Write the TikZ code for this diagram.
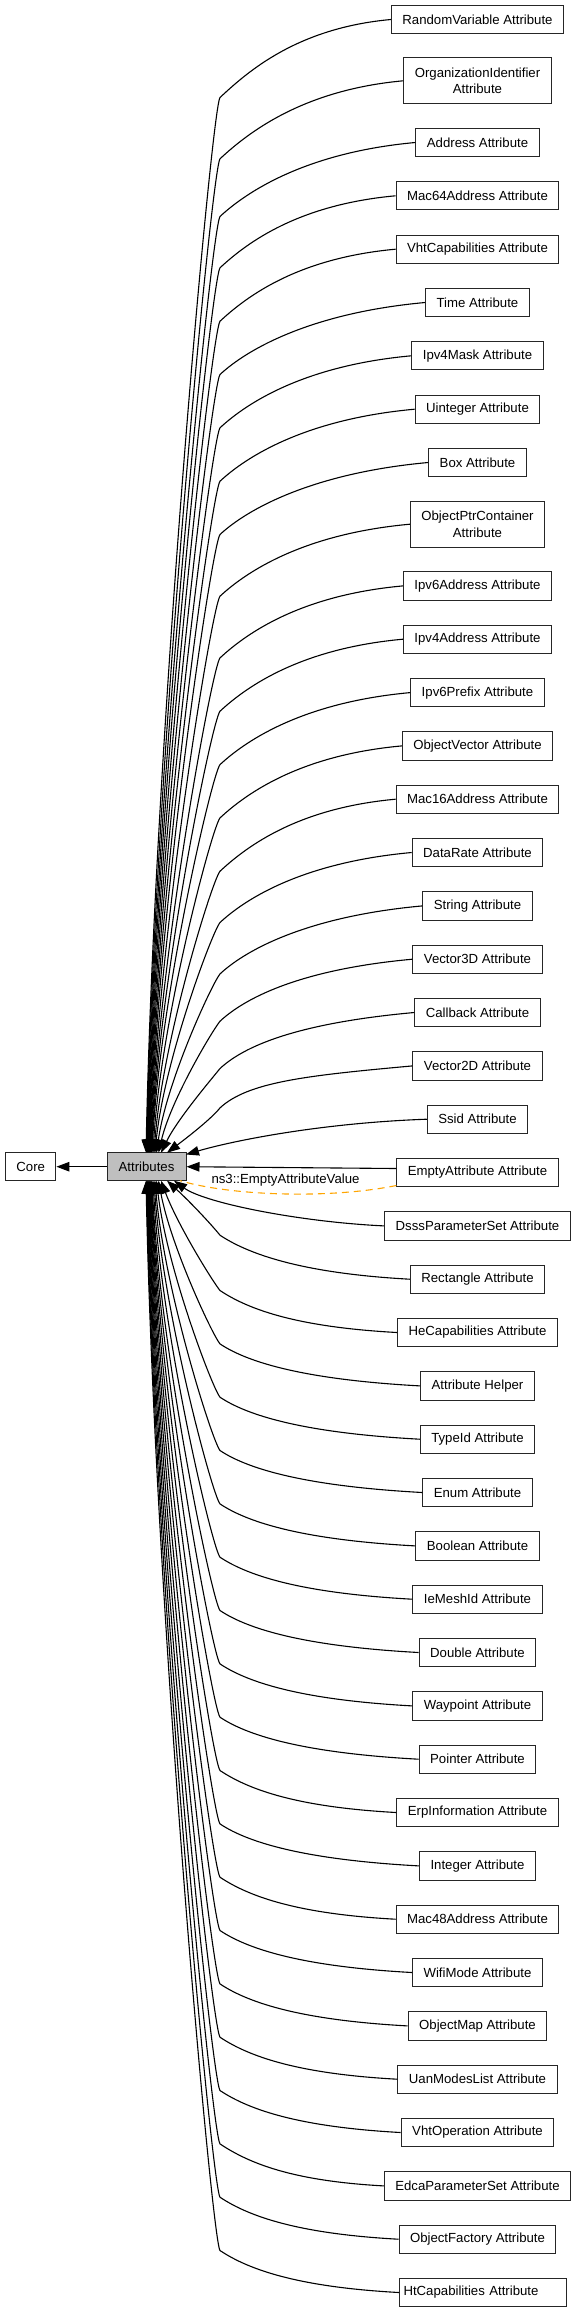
\documentclass[tikz,border=0pt]{standalone}
\usepackage{fontspec}
\setmainfont{Liberation Sans}
\usetikzlibrary{arrows.meta,calc}
\tikzset{
  abox/.style={draw=black!85, line width=1pt, font=\fontsize{13.2}{16.5}\selectfont,
    inner xsep=11pt, inner ysep=0pt, minimum height=28.3pt, align=center},
  twoline/.style={minimum height=45.7pt},
  edge/.style={line width=1.1pt, -{Triangle[length=13pt,width=9.5pt]}},
  tmpledge/.style={line width=1.1pt, draw={rgb,255:red,255;green,165;blue,0}, dash pattern=on 7pt off 5pt},
  lbl/.style={font=\fontsize{13.2}{16.5}\selectfont, inner sep=0pt}
}
\newcommand\upedge[4]{%
  \draw[edge] let \p1=(#1.west), \n1={\x1-220pt}, \n2={\y1-#3pt} in
  (\p1) .. controls ({\x1-0.55*\n1},{\y1-0.05*\n1}) and ({248pt},{\n2+26pt}) .. ({220pt},{\n2+0pt})
  .. controls ({212pt},{\n2-10pt}) and ({#2pt+#4*(220pt-#2pt)},{-1152.7pt+0.4*(\n2+1152.7pt)}) .. ({#2pt},{-1152.7pt});}
\newcommand\downedge[4]{%
  \draw[edge] let \p1=(#1.west), \n1={\x1-220pt}, \n2={\y1+#3pt} in
  (\p1) .. controls ({\x1-0.55*\n1},{\y1+0.03*\n1}) and ({250pt},{\n2-20pt}) .. ({220pt},{\n2+0pt})
  .. controls ({212pt},{\n2+10pt}) and ({#2pt+#4*(220pt-#2pt)},{-1180.7pt+0.4*(\n2+1180.7pt)}) .. ({#2pt},{-1180.7pt});}
\begin{document}
\begin{tikzpicture}[x=1pt,y=-1pt]
\useasboundingbox (0,0) rectangle (576,2315);
% central nodes
\node[abox, fill=black!25, minimum width=79pt, inner xsep=0pt] (attr) at (146.5,1166.7) {Attributes};
\node[abox, minimum width=50.4pt, inner xsep=0pt] (core) at (30.7,1166.7) {Core};
% right column
\node[abox] (n0) at (477.5,19.5) {RandomVariable Attribute};
\node[abox,twoline] (n1) at (477.5,80.8) {OrganizationIdentifier\\Attribute};
\node[abox] (n2) at (477.5,142.5) {Address Attribute};
\node[abox] (n3) at (477.5,195.8) {Mac64Address Attribute};
\node[abox] (n4) at (477.5,249.2) {VhtCapabilities Attribute};
\node[abox] (n5) at (477.5,302.5) {Time Attribute};
\node[abox] (n6) at (477.5,355.8) {Ipv4Mask Attribute};
\node[abox] (n7) at (477.5,409.2) {Uinteger Attribute};
\node[abox] (n8) at (477.5,462.5) {Box Attribute};
\node[abox,twoline] (n9) at (477.5,524.2) {ObjectPtrContainer\\Attribute};
\node[abox] (n10) at (477.5,585.9) {Ipv6Address Attribute};
\node[abox] (n11) at (477.5,639.2) {Ipv4Address Attribute};
\node[abox] (n12) at (477.5,692.6) {Ipv6Prefix Attribute};
\node[abox] (n13) at (477.5,745.9) {ObjectVector Attribute};
\node[abox] (n14) at (477.5,799.2) {Mac16Address Attribute};
\node[abox] (n15) at (477.5,852.5) {DataRate Attribute};
\node[abox] (n16) at (477.5,905.9) {String Attribute};
\node[abox] (n17) at (477.5,959.2) {Vector3D Attribute};
\node[abox] (n18) at (477.5,1012.5) {Callback Attribute};
\node[abox] (n19) at (477.5,1065.9) {Vector2D Attribute};
\node[abox] (n20) at (477.5,1119.2) {Ssid Attribute};
\node[abox] (n21) at (477.5,1172.5) {EmptyAttribute Attribute};
\node[abox] (n22) at (477.5,1225.9) {DsssParameterSet Attribute};
\node[abox] (n23) at (477.5,1279.2) {Rectangle Attribute};
\node[abox] (n24) at (477.5,1332.5) {HeCapabilities Attribute};
\node[abox] (n25) at (477.5,1385.9) {Attribute Helper};
\node[abox] (n26) at (477.5,1439.2) {TypeId Attribute};
\node[abox] (n27) at (477.5,1492.5) {Enum Attribute};
\node[abox] (n28) at (477.5,1545.9) {Boolean Attribute};
\node[abox] (n29) at (477.5,1599.2) {IeMeshId Attribute};
\node[abox] (n30) at (477.5,1652.5) {Double Attribute};
\node[abox] (n31) at (477.5,1705.9) {Waypoint Attribute};
\node[abox] (n32) at (477.5,1759.2) {Pointer Attribute};
\node[abox] (n33) at (477.5,1812.5) {ErpInformation Attribute};
\node[abox] (n34) at (477.5,1865.9) {Integer Attribute};
\node[abox] (n35) at (477.5,1919.2) {Mac48Address Attribute};
\node[abox] (n36) at (477.5,1972.5) {WifiMode Attribute};
\node[abox] (n37) at (477.5,2025.9) {ObjectMap Attribute};
\node[abox] (n38) at (477.5,2079.2) {UanModesList Attribute};
\node[abox] (n39) at (477.5,2132.5) {VhtOperation Attribute};
\node[abox] (n40) at (477.5,2185.9) {EdcaParameterSet Attribute};
\node[abox] (n41) at (477.5,2239.2) {ObjectFactory Attribute};
\node[abox, anchor=west, text width=159pt, align=left, inner xsep=4pt] (n42) at (399,2292.5) {HtCapabilities Attribute};
% edges
\draw[edge] (attr.west) -- (core.east);
\upedge{n0}{146}{78}{0.12}
\upedge{n1}{146.5}{78}{0.12}
\upedge{n2}{147}{74}{0.12}
\upedge{n3}{147.5}{72}{0.12}
\upedge{n4}{148}{72}{0.12}
\upedge{n5}{148.5}{72}{0.12}
\upedge{n6}{149}{72}{0.12}
\upedge{n7}{149.5}{72}{0.12}
\upedge{n8}{150}{72}{0.12}
\upedge{n9}{150.5}{72}{0.12}
\upedge{n10}{151}{72}{0.12}
\upedge{n11}{151.5}{72}{0.12}
\upedge{n12}{152}{72}{0.12}
\upedge{n13}{153}{72}{0.12}
\upedge{n14}{154}{72}{0.13}
\upedge{n15}{155}{70}{0.14}
\upedge{n16}{156.5}{68}{0.16}
\upedge{n17}{158.5}{62}{0.2}
\upedge{n18}{161}{56}{0.28}
\upedge{n19}{167}{42}{0.45}
\draw[edge] (n20.west) .. controls (320,1123) and (232,1141) .. (186,1154.5);
\draw[edge] ([yshift=4pt]n21.west) -- (attr.east);
\draw[tmpledge] ([yshift=-13pt]n21.west) .. controls (330,1199) and (232,1196) .. (180,1180.7);
\node[lbl] (lab) at (285.5,1180) {ns3::EmptyAttributeValue};
\draw[edge] (n22.west) .. controls (300,1222) and (205,1203) .. (174,1180.7);
\downedge{n23}{167}{44}{0.45}
\downedge{n24}{161}{42}{0.28}
\downedge{n25}{158.5}{42}{0.2}
\downedge{n26}{156.5}{42}{0.16}
\downedge{n27}{155}{42}{0.14}
\downedge{n28}{154}{42}{0.13}
\downedge{n29}{153}{42}{0.12}
\downedge{n30}{152}{42}{0.12}
\downedge{n31}{151.5}{42}{0.12}
\downedge{n32}{151}{42}{0.12}
\downedge{n33}{150.5}{42}{0.12}
\downedge{n34}{150}{42}{0.12}
\downedge{n35}{149.5}{42}{0.12}
\downedge{n36}{149}{42}{0.12}
\downedge{n37}{148.5}{42}{0.12}
\downedge{n38}{148}{42}{0.12}
\downedge{n39}{147.5}{42}{0.12}
\downedge{n40}{147}{42}{0.12}
\downedge{n41}{146.5}{42}{0.12}
\downedge{n42}{146}{42}{0.12}
\end{tikzpicture}
\end{document}
